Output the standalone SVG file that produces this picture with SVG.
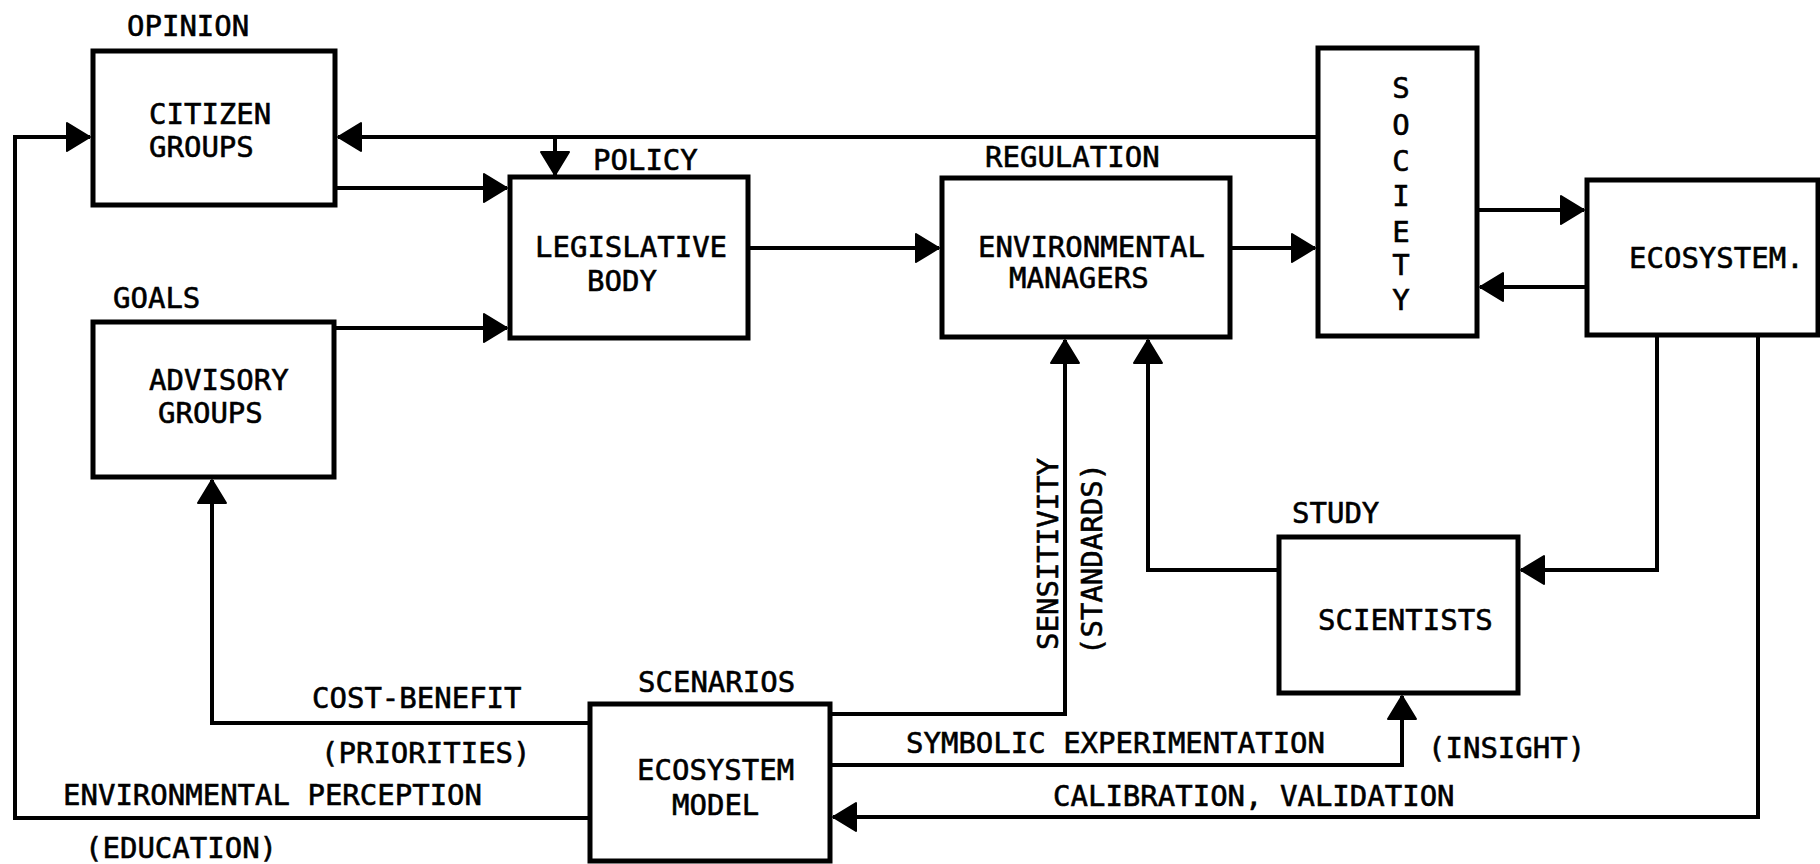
<svg xmlns="http://www.w3.org/2000/svg" width="1820" height="864" viewBox="0 0 1820 864">
<style>
.box{fill:#fff;stroke:#000;stroke-width:5}
.ln{fill:none;stroke:#000;stroke-width:4;stroke-linejoin:miter}
.arr{marker-end:url(#ah)}
text{font-family:"DejaVu Sans Mono","Liberation Mono",monospace;font-size:29px;fill:#000;stroke:#000;stroke-width:0.6}
.c{text-anchor:middle}
</style>
<defs>
<marker id="ah" markerUnits="userSpaceOnUse" markerWidth="26" markerHeight="32" refX="24" refY="15" orient="auto">
<path d="M1,1 L24,15 L1,29 Z" fill="#000" stroke="#000" stroke-width="2" stroke-linejoin="round"/>
</marker>
</defs>
<rect width="1820" height="864" fill="#fff"/>
<g id="connectors">
<path class="ln arr" d="M1318,137 L338,137"/>
<path class="ln arr" d="M555,137 L555,175"/>
<path class="ln arr" d="M335,188 L507,188"/>
<path class="ln arr" d="M334,328 L507,328"/>
<path class="ln arr" d="M590,818 L15,818 L15,137 L90,137"/>
<path class="ln arr" d="M748,248 L939,248"/>
<path class="ln arr" d="M1230,248 L1315,248"/>
<path class="ln arr" d="M1477,210 L1584,210"/>
<path class="ln arr" d="M1587,287 L1480,287"/>
<path class="ln arr" d="M1657,335 L1657,570 L1521,570"/>
<path class="ln arr" d="M1758,335 L1758,817 L833,817"/>
<path class="ln arr" d="M1279,570 L1148,570 L1148,340"/>
<path class="ln arr" d="M830,714 L1065,714 L1065,340"/>
<path class="ln arr" d="M830,765 L1402,765 L1402,696"/>
<path class="ln arr" d="M590,723 L212,723 L212,480"/>
</g>
<g id="citizen">
<rect class="box" x="93" y="51" width="242" height="154"/>
<text x="127" y="36">OPINION</text>
<text x="149" y="124">CITIZEN</text>
<text x="149" y="157">GROUPS</text>
</g>
<g id="advisory">
<rect class="box" x="93" y="322" width="241" height="155"/>
<text x="113" y="308">GOALS</text>
<text x="149" y="390">ADVISORY</text>
<text x="158" y="423">GROUPS</text>
</g>
<g id="legislative">
<rect class="box" x="510" y="177" width="238" height="161"/>
<text x="593" y="170">POLICY</text>
<text x="535" y="257">LEGISLATIVE</text>
<text x="587" y="291">BODY</text>
</g>
<g id="managers">
<rect class="box" x="942" y="178" width="288" height="159"/>
<text x="985" y="167">REGULATION</text>
<text x="978" y="257">ENVIRONMENTAL</text>
<text x="1009" y="288">MANAGERS</text>
</g>
<g id="society">
<rect class="box" x="1318" y="48" width="159" height="288"/>
<text class="c" x="1401" y="98">S</text>
<text class="c" x="1401" y="135">O</text>
<text class="c" x="1401" y="171">C</text>
<text class="c" x="1401" y="206">I</text>
<text class="c" x="1401" y="242">E</text>
<text class="c" x="1401" y="275">T</text>
<text class="c" x="1401" y="310">Y</text>
</g>
<g id="ecosystem">
<rect class="box" x="1587" y="180" width="231" height="155"/>
<text x="1629" y="268">ECOSYSTEM.</text>
</g>
<g id="scientists">
<rect class="box" x="1279" y="537" width="239" height="156"/>
<text x="1292" y="523">STUDY</text>
<text x="1318" y="630">SCIENTISTS</text>
</g>
<g id="model">
<rect class="box" x="590" y="704" width="240" height="157"/>
<text x="638" y="692">SCENARIOS</text>
<text x="637" y="780">ECOSYSTEM</text>
<text x="672" y="815">MODEL</text>
</g>
<g id="labels">
<text transform="translate(1058,650) rotate(-90)">SENSITIVITY</text>
<text transform="translate(1102,655) rotate(-90)">(STANDARDS)</text>
<text x="312" y="708">COST-BENEFIT</text>
<text x="321" y="763">(PRIORITIES)</text>
<text x="63" y="805">ENVIRONMENTAL PERCEPTION</text>
<text x="85" y="858">(EDUCATION)</text>
<text x="906" y="753">SYMBOLIC EXPERIMENTATION</text>
<text x="1428" y="758">(INSIGHT)</text>
<text x="1053" y="806">CALIBRATION, VALIDATION</text>
</g>
</svg>
